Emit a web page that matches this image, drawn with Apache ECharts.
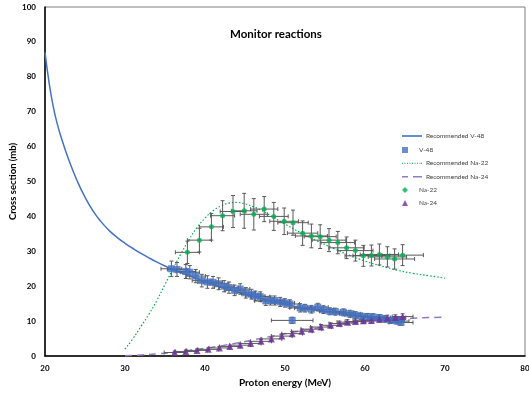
<!DOCTYPE html>
<html><head><meta charset="utf-8">
<script src="https://cdn.jsdelivr.net/npm/echarts@6/dist/echarts.min.js"></script>
<style>html,body{margin:0;padding:0;background:#fff}#c{width:529px;height:394px}</style>
</head><body><div id="c"></div>
<script>
// Recommended curves
var recV48_x = [20.0,20.5,21.0,21.5,22.0,23.0,24.0,25.0,26.0,27.0,28.0,29.0,30.0,31.0,32.0,33.0,34.0,35.0,36.0,38.0,40.0,42.0,44.0,46.0,48.0,50.0,52.0,54.0,56.0,58.0,60.0,62.0,64.0,65.0];
var recV48_y = [87.0,78.5,71.8,66.8,62.8,56.0,50.3,45.5,41.6,38.5,36.0,34.0,32.3,30.8,29.4,28.1,26.9,25.8,24.8,23.0,21.3,19.8,18.4,17.1,15.9,14.8,13.9,13.1,12.4,11.8,11.2,10.7,10.3,10.1];
var recNa22_x = [30,31,32,33,34,35,36,37,38,39,40,41,42,43,44,45,46,47,48,50,52,54,56,58,60,62,64,66,68,70];
var recNa22_y = [2.0,5.0,8.5,12.0,16.0,20.5,25.0,29.3,33.3,36.8,39.5,41.6,43.0,43.8,44.0,43.6,42.8,41.8,40.5,37.8,35.3,33.0,30.9,28.9,27.2,25.8,24.6,23.7,23.0,22.3];
var recNa24_x = [30,32,34,36,38,40,42,44,46,48,50,52,54,56,58,60,62,64,66,68,70];
var recNa24_y = [0.1,0.3,0.6,1.0,1.6,2.2,2.9,3.7,4.6,5.5,6.4,7.2,8.0,8.7,9.3,9.8,10.2,10.5,10.8,11.0,11.1];

// Measured V-48
var v48_x = [35.8,36.5,37.6,38.1,38.85,39.6,40.3,41.0,41.7,42.4,43.0,43.7,44.4,45.1,45.8,46.3,46.9,47.6,48.2,48.7,49.4,50.0,50.6,50.9,51.9,52.5,53.3,54.1,54.8,55.6,56.3,57.3,58.1,58.8,59.5,60.3,61.0,61.8,62.5,63.2,64.0,64.5];
var v48_y = [25.0,24.8,24.2,24.0,22.9,21.6,21.2,21.1,20.7,20.0,19.6,18.8,19.2,18.1,17.7,17.2,17.0,15.8,15.9,15.9,15.5,15.2,14.9,10.2,13.8,13.7,13.4,14.0,13.3,12.8,12.7,12.5,12.1,11.7,11.4,11.3,11.2,11.0,10.6,10.2,10.0,9.6];
var v48_xerr = [1.3,1.2,1.2,1.2,1.2,1.2,1.2,1.2,1.2,1.2,1.2,1.2,1.2,1.2,1.2,1.2,1.2,1.4,1.2,1.2,1.2,1.2,1.2,2.6,1.3,1.3,1.3,1.3,1.3,1.3,1.3,1.3,1.3,1.3,1.3,1.4,1.4,1.4,1.4,1.4,1.5,1.5];
var v48_yerr = [2.2,2.0,2.0,1.9,1.9,1.8,1.8,1.7,1.7,1.6,1.6,1.5,1.5,1.5,1.4,1.4,1.4,1.3,1.3,1.3,1.3,1.2,1.2,0.9,1.2,1.1,1.1,1.1,1.1,1.0,1.0,1.0,1.0,1.0,0.9,0.9,0.9,0.9,0.9,0.9,0.8,0.8];

// Measured Na-22
var na22_x = [37.8,39.3,40.8,42.2,43.5,44.9,46.1,47.4,48.6,49.9,51.0,52.2,53.3,54.4,55.5,56.6,57.7,58.8,59.8,60.8,61.8,62.8,63.7,64.7];
var na22_y = [29.7,33.2,37.0,40.2,41.4,41.6,40.6,42.1,40.0,38.6,38.2,35.2,34.4,34.2,33.2,32.5,31.0,30.2,28.7,28.8,29.1,28.4,27.8,28.9];
var na22_xerr = [1.5,1.5,1.5,1.5,1.6,1.6,1.7,1.7,1.8,1.8,1.9,1.9,2.0,2.0,2.1,2.1,2.2,2.2,2.3,2.3,2.4,2.4,2.5,2.6];
var na22_yerr = [3.2,3.4,3.8,4.3,4.6,5.0,4.5,3.6,4.0,3.8,3.6,3.5,3.4,3.4,3.3,3.2,3.1,3.0,3.0,3.0,3.0,2.9,2.9,3.0];

// Measured Na-24
var na24_x = [36.2,37.6,39.0,40.4,41.8,43.1,44.4,45.7,47.0,48.3,49.6,50.9,52.1,53.3,54.5,55.7,56.8,57.8,58.8,59.8,60.8,61.8,62.8,63.8,64.7];
var na24_y = [1.0,1.3,1.6,1.9,2.3,2.7,3.1,3.6,4.2,4.9,5.7,6.4,7.1,7.7,8.3,8.8,9.3,9.7,9.9,10.1,10.2,10.5,10.9,11.0,11.3];
var na24_xerr = [1.3,1.3,1.3,1.3,1.3,1.3,1.3,1.3,1.3,1.3,1.3,1.3,1.3,1.3,1.3,1.3,1.3,1.3,1.3,1.3,1.3,1.3,1.3,1.3,1.3];
var na24_yerr = [0.4,0.4,0.4,0.4,0.4,0.4,0.5,0.5,0.5,0.5,0.6,0.6,0.6,0.6,0.7,0.7,0.7,0.7,0.7,0.8,0.8,0.8,0.8,0.8,0.8];

var xTicks = [20,30,40,50,60,70,80];
var yTicks = [0,10,20,30,40,50,60,70,80,90,100];
var legendNames = ['Recommended V-48','V-48','Recommended Na-22','Recommended Na-24','Na-22','Na-24'];

function zip(a,b){return a.map(function(v,i){return [v,b[i]];});}
function zip4(a,b,c,d){return a.map(function(v,i){return [v,b[i],c[i],d[i]];});}

var FONT = 'Lato, "Open Sans", sans-serif';
var ERR = '#595959';

var ICONS = {
  'Recommended V-48': 'path://M0,0h20v1.6h-20z',
  'V-48': 'path://M0,0h5v5h-5z',
  'Recommended Na-22': 'path://M0,0h1v1h-1zM2.5,0h1v1h-1zM5,0h1v1h-1zM7.5,0h1v1h-1zM10,0h1v1h-1zM12.5,0h1v1h-1zM15,0h1v1h-1zM17.5,0h1v1h-1zM19,0h1v1h-1z',
  'Recommended Na-24': 'path://M0,0h6v1.5h-6zM11,0h9v1.5h-9z',
  'Na-22': 'path://M2.5,0L5,2.5L2.5,5L0,2.5Z',
  'Na-24': 'path://M2.5,0L5,5L0,5Z'
};
var rowCenters = [136, 150, 163.3, 176.7, 190, 203];

var legends = legendNames.map(function(n, i){
  return {
    orient: 'vertical', left: 402, top: rowCenters[i] - 5, itemWidth: 20, itemHeight: 6,
    padding: 0, itemGap: 0, icon: ICONS[n],
    textStyle: {fontFamily: FONT, fontSize: 6.5, color: '#404040', lineHeight: 10, padding: [0,0,0,-1]},
    data: [{name: n, icon: ICONS[n]}]
  };
});

function errRender(params, api){
  var x = api.value(0), y = api.value(1), xe = api.value(2), ye = api.value(3);
  var l = api.coord([x-xe,y]), r = api.coord([x+xe,y]);
  var t = api.coord([x,y+ye]), b = api.coord([x,y-ye]);
  var cap = 2;
  var st = {stroke: ERR, lineWidth: 1};
  var ch = [
    {type:'line', shape:{x1:l[0],y1:l[1],x2:r[0],y2:r[1]}, style:st},
    {type:'line', shape:{x1:l[0],y1:l[1]-cap,x2:l[0],y2:l[1]+cap}, style:st},
    {type:'line', shape:{x1:r[0],y1:r[1]-cap,x2:r[0],y2:r[1]+cap}, style:st},
    {type:'line', shape:{x1:t[0],y1:t[1],x2:b[0],y2:b[1]}, style:st},
    {type:'line', shape:{x1:t[0]-cap,y1:t[1],x2:t[0]+cap,y2:t[1]}, style:st},
    {type:'line', shape:{x1:b[0]-cap,y1:b[1],x2:b[0]+cap,y2:b[1]}, style:st}
  ];
  return {type:'group', children: ch};
}

var chart = echarts.init(document.getElementById('c'), null, {renderer:'canvas'});
chart.setOption({
  animation: false,
  backgroundColor: '#fff',
  title: {
    text: 'Monitor reactions', left: 225, top: 23,
    textStyle: {fontFamily: FONT, fontWeight: 'bold', fontSize: 11.5, color: '#000'}
  },
  grid: {left: 45, right: 4, top: 7, bottom: 38, show: true, borderColor: '#7f7f7f', borderWidth: 1,
         containLabel: false, outerBoundsMode: 'none'},
  legend: legends,
  xAxis: {
    type: 'value', min: 20, max: 80, interval: 10,
    name: 'Proton energy (MeV)', nameLocation: 'middle', nameGap: 22, nameMoveOverlap: false,
    nameTextStyle: {fontFamily: FONT, fontWeight: 'bold', fontSize: 10, color: '#000'},
    axisLine: {lineStyle: {color: '#000', width: 1.5}},
    axisTick: {show: false}, splitLine: {show: false},
    axisLabel: {fontFamily: FONT, fontWeight: 'bold', fontSize: 8, color: '#000', margin: 8,
      formatter: function(v){return xTicks.indexOf(v)>=0 ? String(v) : '';}}
  },
  yAxis: {
    type: 'value', min: 0, max: 100, interval: 10,
    name: 'Cross section (mb)', nameLocation: 'middle', nameGap: 27, nameMoveOverlap: false,
    nameTextStyle: {fontFamily: FONT, fontWeight: 'bold', fontSize: 9.5, color: '#000'},
    axisLine: {show: true, lineStyle: {color: '#000', width: 1.5}},
    axisTick: {show: false}, splitLine: {show: false},
    axisLabel: {fontFamily: FONT, fontWeight: 'bold', fontSize: 8, color: '#000', margin: 9,
      formatter: function(v){return yTicks.indexOf(v)>=0 ? String(v) : '';}}
  },
  series: [
    {name: 'Recommended V-48', type: 'line', smooth: true, symbol: 'none', z: 3,
     lineStyle: {color: '#4472C4', width: 1.5}, itemStyle: {color: '#4472C4'},
     data: zip(recV48_x, recV48_y)},
    {name: 'Recommended Na-22', type: 'line', smooth: true, symbol: 'none', z: 3,
     lineStyle: {color: '#00B050', width: 1.2, type: [1.5, 2]}, itemStyle: {color: '#00B050'},
     data: zip(recNa22_x, recNa22_y)},
    {name: 'Recommended Na-24', type: 'line', smooth: true, symbol: 'none', z: 3,
     lineStyle: {color: '#8E7CC3', width: 1.5, type: [7, 5]}, itemStyle: {color: '#8E7CC3'},
     data: zip(recNa24_x, recNa24_y)},
    {type: 'custom', renderItem: errRender, z: 4, silent: true,
     data: zip4(na22_x, na22_y, na22_xerr, na22_yerr)},
    {type: 'custom', renderItem: errRender, z: 4, silent: true,
     data: zip4(v48_x, v48_y, v48_xerr, v48_yerr)},
    {type: 'custom', renderItem: errRender, z: 4, silent: true,
     data: zip4(na24_x, na24_y, na24_xerr, na24_yerr)},
    {name: 'V-48', type: 'scatter', symbol: 'rect', symbolSize: 7, z: 5,
     itemStyle: {color: '#4472C4'}, data: zip(v48_x, v48_y)},
    {name: 'Na-22', type: 'scatter', symbol: 'circle', symbolSize: 5, z: 5,
     itemStyle: {color: '#00B050'}, data: zip(na22_x, na22_y)},
    {name: 'Na-24', type: 'scatter', symbol: 'triangle', symbolSize: 7, z: 5,
     itemStyle: {color: '#7030A0'}, data: zip(na24_x, na24_y)}
  ]
});
</script></body></html>
